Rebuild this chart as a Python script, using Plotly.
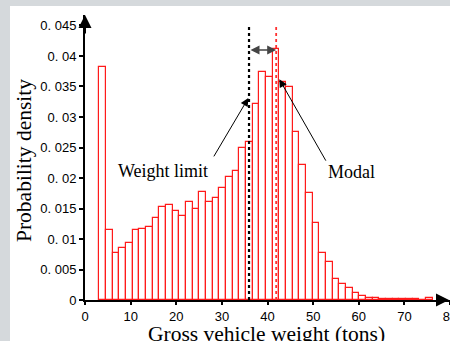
import numpy as np
import plotly.graph_objects as go

# ---- data ----
bin_left = 3.13          # left edge of first bin (tons)
bin_width = 1.461        # bin width (tons)
density = [
    0.0382, 0.0114, 0.0077, 0.0085, 0.0094, 0.0114, 0.0116, 0.0120, 0.0134, 0.0153,
    0.0155, 0.0146, 0.0138, 0.0160, 0.0150, 0.0177, 0.0160, 0.0168, 0.0183, 0.0202,
    0.0211, 0.0250, 0.0259, 0.0321, 0.0374, 0.0366, 0.0411, 0.0357, 0.0349, 0.0275,
    0.0221, 0.0176, 0.0127, 0.0077, 0.0062, 0.0035, 0.0026, 0.0019, 0.0011, 0.0006,
    0.0004, 0.0003, 0.0002, 0.0002, 0.00015, 0.00015, 0.00015, 0.0001, 0.00005, 0.0003,
]
weight_limit = 35.95
modal = 41.9

x_tick_vals = [0, 10, 20, 30, 40, 50, 60, 70, 80]
x_tick_text = ["0", "10", "20", "30", "40", "50", "60", "70", "80"]
y_tick_vals = [0, 0.005, 0.01, 0.015, 0.02, 0.025, 0.03, 0.035, 0.04, 0.045]
y_tick_text = ["0", "0. 005", "0. 01", "0. 015", "0. 02", "0. 025", "0. 03", "0. 035", "0. 04", "0. 045"]

x_title = "Gross vehicle weight (tons)"
y_title = "Probability density"

centers = bin_left + bin_width * (np.arange(len(density)) + 0.5)

W, H = 450, 341
ML, MR, MT, MB = 85, 0, 15, 41
y_top = 0.04672
line_top = 0.0451

fig = go.Figure()
fig.add_trace(go.Bar(
    x=centers, y=density, width=bin_width,
    marker=dict(color="rgba(255,255,255,0)", line=dict(color="#ff1a1a", width=1.2)),
    showlegend=False, hoverinfo="x+y",
))

serif = "Liberation Serif, Times New Roman, serif"
sans = "Liberation Sans, Arial, sans-serif"

# gray page border on left & top (paper coords)
pw, ph = W - ML - MR, H - MT - MB
def px_x(p): return (p - ML) / pw
def px_y(p): return (H - MB - p) / ph

shapes = [
    dict(type="rect", xref="paper", yref="paper", x0=px_x(-2), x1=px_x(10), y0=px_y(H + 2), y1=px_y(-2),
         fillcolor="#d5d9dc", line=dict(width=0), layer="above"),
    dict(type="rect", xref="paper", yref="paper", x0=px_x(-2), x1=px_x(W + 2), y0=px_y(6), y1=px_y(-2),
         fillcolor="#d5d9dc", line=dict(width=0), layer="above"),
    dict(type="line", xref="x", yref="y", x0=weight_limit, x1=weight_limit, y0=0, y1=line_top,
         line=dict(color="black", width=2.2, dash="dot")),
    dict(type="line", xref="x", yref="y", x0=modal, x1=modal, y0=0, y1=line_top,
         line=dict(color="#ff3030", width=1.8, dash="dot")),
]

annotations = [
    # y-axis arrow
    dict(x=0, y=y_top, xref="x", yref="y", ax=0, ay=20,
         showarrow=True, arrowhead=2, arrowsize=1.3, arrowwidth=2, arrowcolor="black", text=""),
    # x-axis arrow (mostly clipped at right edge)
    dict(x=px_x(458), y=0, xref="paper", yref="y", ax=-14, ay=0,
         showarrow=True, arrowhead=2, arrowsize=1.3, arrowwidth=2, arrowcolor="black", text=""),
    # double arrow between weight limit and modal
    dict(x=modal, y=0.0410, xref="x", yref="y", ax=weight_limit, ay=0.0410, axref="x", ayref="y",
         showarrow=True, arrowhead=2, startarrowhead=2, arrowside="end+start", arrowsize=1.2,
         arrowwidth=1.5, arrowcolor="#444444", text=""),
    # Weight limit label + arrow
    dict(x=35.8, y=0.0331, xref="x", yref="y", ax=28.05, ay=0.0233, axref="x", ayref="y",
         showarrow=True, arrowhead=2, arrowsize=1.6, arrowwidth=1, arrowcolor="black", text=""),
    dict(x=17.1, y=0.0211, xref="x", yref="y", text="Weight limit", showarrow=False,
         font=dict(family=serif, size=18, color="black")),
    # Modal label + arrow
    dict(x=42.59, y=0.0362, xref="x", yref="y", ax=52.97, ay=0.0226, axref="x", ayref="y",
         showarrow=True, arrowhead=2, arrowsize=1.6, arrowwidth=1, arrowcolor="black", text=""),
    dict(x=58.5, y=0.0210, xref="x", yref="y", text="Modal", showarrow=False,
         font=dict(family=serif, size=18, color="black")),
    # axis titles
    dict(x=px_x(266.5), y=px_y(334), xref="paper", yref="paper", text=x_title, showarrow=False,
         xanchor="center", yanchor="middle", font=dict(family=serif, size=21.5, color="black")),
    dict(x=px_x(24), y=px_y(161), xref="paper", yref="paper", text=y_title, showarrow=False,
         textangle=-90, xanchor="center", yanchor="middle",
         font=dict(family=serif, size=21.5, color="black")),
]

fig.update_layout(
    width=W, height=H,
    margin=dict(l=ML, r=MR, t=MT, b=MB, pad=0),
    paper_bgcolor="white", plot_bgcolor="white",
    shapes=shapes, annotations=annotations,
    bargap=0,
    xaxis=dict(range=[0, 80], tickvals=x_tick_vals, ticktext=x_tick_text,
               showline=True, linecolor="black", linewidth=2, ticks="outside", ticklen=3,
               tickwidth=1.5, tickcolor="black", showgrid=False, zeroline=False,
               ticklabeloverflow="allow",
               tickfont=dict(family=sans, size=13, color="black"), automargin=False),
    yaxis=dict(range=[0, y_top], tickvals=y_tick_vals, ticktext=y_tick_text,
               showline=True, linecolor="black", linewidth=2, ticks="outside", ticklen=4,
               tickwidth=1.5, tickcolor="black", showgrid=False, zeroline=False,
               ticklabeloverflow="allow",
               tickfont=dict(family=sans, size=13, color="black"), automargin=False),
)

fig.write_html(
    "out.html",
    config={"displayModeBar": False},
    post_script="document.body.style.margin='0';document.documentElement.style.overflow='hidden';document.body.style.overflow='hidden';",
)
